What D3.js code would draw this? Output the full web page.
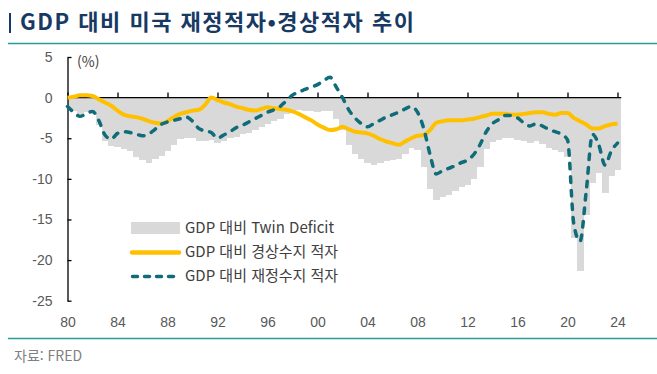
<!DOCTYPE html>
<html lang="ko">
<head>
    <meta charset="utf-8">
    <script src="https://d3js.org/d3.v7.min.js"></script>
    <style>
        body { margin: 0; background: white; }
        svg { display: block; font-family: "Noto Sans CJK KR", "Noto Sans", sans-serif; }
        .tick text { font-size: 14px; fill: #595959; }
        .legend text { font-size: 15px; fill: #404040; }
    </style>
</head>
<body>
<script>
    // half-year steps, 1980 H1 .. 2024 H1 (% of GDP)
    const startYear = 1980;
    const currentAccount = [
        0.0, 0.1, 0.3, 0.3, 0.2, -0.2, -0.6, -1.0, -1.6, -2.1,
        -2.3, -2.4, -2.6, -2.9, -3.1, -3.2, -2.9, -2.4, -2.0, -1.8,
        -1.6, -1.5, -0.9, 0.0, -0.3, -0.6, -0.8, -1.1, -1.3, -1.5,
        -1.6, -1.4, -1.2, -1.3, -1.4, -1.5, -1.7, -2.0, -2.4, -2.8,
        -3.3, -3.7, -4.0, -3.9, -3.6, -3.9, -4.2, -4.3, -4.4, -4.7,
        -5.1, -5.4, -5.6, -5.8, -5.4, -5.0, -4.7, -4.6, -4.0, -3.1,
        -2.9, -2.8, -2.8, -2.8, -2.7, -2.6, -2.4, -2.2, -2.0, -2.0,
        -2.0, -2.1, -2.1, -2.0, -1.9, -1.8, -1.8, -2.0, -2.1, -1.9,
        -1.9, -2.5, -2.9, -3.3, -3.8, -3.8, -3.5, -3.3, -3.2
    ];
    const fiscalBalance = [
        -1.1, -1.8, -2.3, -2.0, -1.7, -2.8, -4.6, -5.1, -4.4, -4.2,
        -4.3, -4.5, -4.7, -4.5, -3.9, -3.3, -3.0, -2.8, -2.6, -2.4,
        -2.9, -3.8, -4.1, -4.3, -5.0, -4.6, -4.2, -3.7, -3.4, -3.0,
        -2.6, -2.2, -1.8, -1.5, -1.1, -0.4, 0.3, 0.7, 1.0, 1.3,
        1.6, 2.1, 2.5, 1.3, 0.0, -1.5, -2.5, -3.2, -3.6, -3.2,
        -2.8, -2.4, -2.1, -1.8, -1.4, -1.1, -1.8, -3.8, -7.0, -9.4,
        -9.0, -8.7, -8.4, -8.0, -7.7, -7.0, -5.8, -4.2, -3.2, -2.7,
        -2.2, -2.2, -2.5, -3.1, -3.5, -3.2, -3.5, -3.9, -4.2, -4.5,
        -5.2, -15.5, -17.7, -11.5, -4.5, -5.8, -8.3, -6.6, -5.6
    ];
    const twinDeficit = [
        -1.1, -1.7, -2.0, -1.8, -1.9, -3.4, -5.3, -6.0, -6.1, -6.3,
        -6.6, -7.3, -7.7, -8.0, -7.6, -7.2, -6.6, -5.8, -5.1, -5.0,
        -5.0, -5.3, -5.3, -5.2, -5.6, -5.4, -5.0, -4.8, -4.5, -4.3,
        -4.0, -3.6, -3.2, -2.9, -2.6, -2.0, -1.7, -1.5, -1.6, -1.7,
        -1.8, -1.6, -1.6, -2.6, -4.0, -5.8, -6.9, -7.5, -8.0, -8.3,
        -8.0, -7.8, -7.7, -7.6, -6.9, -6.2, -6.5, -8.5, -11.3, -12.6,
        -12.2, -12.0, -11.5, -11.0, -10.7, -10.0, -8.5, -6.3, -5.5, -5.2,
        -5.0, -5.0, -5.2, -5.4, -5.6, -5.4, -5.7, -6.2, -6.4, -6.7,
        -7.3, -17.3, -21.4, -14.5, -10.5, -9.3, -11.8, -9.7, -8.9
    ];
    const yTicks = [5, 0, -5, -10, -15, -20, -25];
    const xTicks = [1980, 1984, 1988, 1992, 1996, 2000, 2004, 2008, 2012, 2016, 2020, 2024];
    const legendLabels = ["GDP 대비 Twin Deficit", "GDP 대비 경상수지 적자", "GDP 대비 재정수지 적자"];

    const navy = "#173a64", teal = "#2a9b9b", yellow = "#ffc000", dark = "#0f6c78", gray = "#d9d9d9";

    const svg = d3.select("body").append("svg")
        .attr("width", 657).attr("height", 374);

    // title
    svg.append("rect").attr("x", 9).attr("y", 13).attr("width", 2).attr("height", 20).attr("fill", navy);
    svg.append("text").attr("x", 20).attr("y", 30)
        .attr("font-size", 22).attr("font-weight", "bold").attr("fill", navy)
        .attr("letter-spacing", 1.5)
        .text("GDP 대비 미국 재정적자•경상적자 추이");
    svg.append("line").attr("x1", 8).attr("x2", 657).attr("y1", 43.5).attr("y2", 43.5)
        .attr("stroke", teal).attr("stroke-width", 1.5);
    svg.append("line").attr("x1", 8).attr("x2", 657).attr("y1", 338.5).attr("y2", 338.5)
        .attr("stroke", teal).attr("stroke-width", 1.5);
    svg.append("text").attr("x", 14).attr("y", 361)
        .attr("font-size", 14).attr("fill", "#808080").text("자료: FRED");

    const x = d3.scaleLinear().domain([1980, 2024]).range([67.5, 617.5]);
    const y = d3.scaleLinear().domain([-25, 5]).range([300.7, 57]);
    const t = i => startYear + i / 2;

    // twin deficit bars
    svg.append("g").selectAll("rect")
        .data(twinDeficit)
        .join("rect")
        .attr("x", (d, i) => Math.max(x(t(i) - 0.25), x(1980)))
        .attr("width", (d, i) => x(t(i) + 0.25) - Math.max(x(t(i) - 0.25), x(1980)) + 0.4)
        .attr("y", y(0))
        .attr("height", d => y(d) - y(0))
        .attr("fill", gray)
        .attr("shape-rendering", "crispEdges");

    // zero line with ticks pointing up
    svg.append("line").attr("x1", x(1980)).attr("x2", x(2024.3))
        .attr("y1", y(0)).attr("y2", y(0)).attr("stroke", "#000").attr("stroke-width", 1.3);
    svg.append("g").attr("transform", `translate(0,${y(0)})`)
        .call(d3.axisTop(x).tickValues(xTicks).tickSize(5).tickFormat(""))
        .call(g => g.select(".domain").remove())
        .call(g => g.selectAll("line").attr("stroke", "#000").attr("stroke-width", 1.3));

    // x labels
    svg.append("g").attr("transform", "translate(0,311)")
        .call(d3.axisBottom(x).tickValues(xTicks).tickSize(0).tickPadding(6)
            .tickFormat(d => String(d % 100).padStart(2, "0")))
        .call(g => g.select(".domain").remove())
        .call(g => g.selectAll("text").attr("font-family", null));

    // y axis
    svg.append("g").attr("transform", `translate(${x(1980)},0)`)
        .call(d3.axisLeft(y).tickValues(yTicks).tickSizeInner(-4).tickSizeOuter(0).tickPadding(15)
            .tickFormat(d => String(d)))
        .call(g => g.select(".domain").attr("stroke", "#000").attr("stroke-width", 1.3))
        .call(g => g.selectAll(".tick line").attr("stroke", "#000").attr("stroke-width", 1.3))
        .call(g => g.selectAll("text").attr("font-family", null));
    svg.append("text").attr("x", 77).attr("y", 67).attr("font-size", 14).attr("fill", "#404040").text("(%)");

    const line = d3.line().x((d, i) => x(t(i))).y(d => y(d)).curve(d3.curveMonotoneX);

    svg.append("path").datum(currentAccount).attr("d", line)
        .attr("fill", "none").attr("stroke", yellow).attr("stroke-width", 4)
        .attr("stroke-linejoin", "round");
    svg.append("path").datum(fiscalBalance).attr("d", line)
        .attr("fill", "none").attr("stroke", dark).attr("stroke-width", 3.5)
        .attr("stroke-dasharray", "5.5,8").attr("stroke-linecap", "round");

    // legend
    const lg = svg.append("g").attr("class", "legend").attr("transform", "translate(131,228)");
    lg.append("rect").attr("x", 0).attr("y", -6).attr("width", 49).attr("height", 12).attr("fill", gray);
    lg.append("line").attr("x1", 1).attr("x2", 48).attr("y1", 24.5).attr("y2", 24.5)
        .attr("stroke", yellow).attr("stroke-width", 4.5).attr("stroke-linecap", "round");
    lg.append("line").attr("x1", 1.5).attr("x2", 48).attr("y1", 48.5).attr("y2", 48.5)
        .attr("stroke", dark).attr("stroke-width", 3.5)
        .attr("stroke-dasharray", "5,7").attr("stroke-linecap", "round");
    lg.selectAll("text").data(legendLabels).join("text")
        .attr("x", 54).attr("y", (d, i) => i * 24 + 5)
        .text(d => d);
</script>
</body>
</html>
